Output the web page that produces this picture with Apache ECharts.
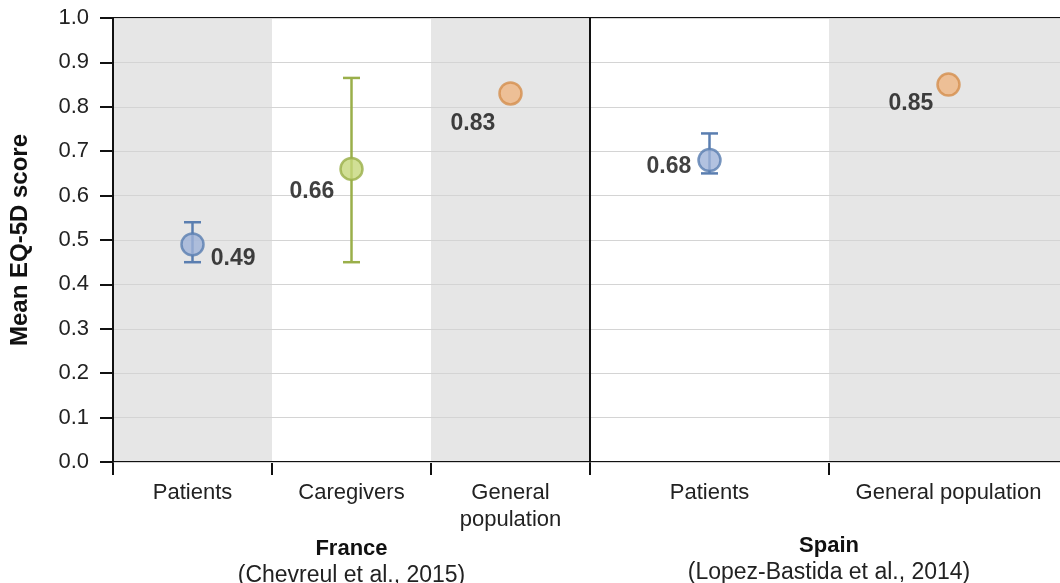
<!DOCTYPE html>
<html>
<head>
<meta charset="utf-8">
<script src="https://cdn.jsdelivr.net/npm/echarts@6/dist/echarts.min.js"></script>
<style>
  html, body { margin: 0; padding: 0; background: #fff; }
  #chart { width: 1060px; height: 583px; }
</style>
</head>
<body>
<div id="chart"></div>
<script>
// Mean EQ-5D scores by group, with ranges
const franceCategories = ['Patients', 'Caregivers', 'General\npopulation'];
const franceMean = [0.49, 0.66, 0.83];
const franceLow = [0.45, 0.45, null];
const franceHigh = [0.54, 0.865, null];

const spainCategories = ['Patients', 'General population'];
const spainMean = [0.68, 0.85];
const spainLow = [0.65, null];
const spainHigh = [0.74, null];

const yTicks = [0, 0.1, 0.2, 0.3, 0.4, 0.5, 0.6, 0.7, 0.8, 0.9, 1.0];

// group styling
const groupStyle = {
  Patients: { fill: '#9fb3d8', stroke: '#5a7eb0' },
  Caregivers: { fill: '#c6d77a', stroke: '#9aaf4a' },
  General: { fill: '#efb582', stroke: '#d48e4e' }
};
function styleFor(cat) {
  if (cat.indexOf('Patients') === 0) return groupStyle.Patients;
  if (cat.indexOf('Caregivers') === 0) return groupStyle.Caregivers;
  return groupStyle.General;
}

// where each value label sits beside its marker
const franceLabelPlace = [
  { position: 'right', offset: [1, 14] },
  { position: 'left', offset: [0, 23] },
  { position: 'left', offset: [2, 30] }
];
const spainLabelPlace = [
  { position: 'left', offset: [-1, 7] },
  { position: 'left', offset: [2, 19] }
];

const FONT = '"Liberation Sans", Arial, sans-serif';
const FS = 22;

function pointSeries(idx, cats, means, places) {
  return {
    type: 'scatter',
    xAxisIndex: idx, yAxisIndex: idx,
    z: 5,
    symbol: 'circle',
    symbolSize: 22,
    data: means.map((v, i) => {
      const s = styleFor(cats[i]);
      return {
        value: [i, v],
        itemStyle: { color: s.fill, borderColor: s.stroke, borderWidth: 2.5 },
        label: {
          show: true,
          position: places[i].position,
          offset: places[i].offset,
          formatter: v.toFixed(2),
          color: '#111',
          fontFamily: FONT,
          fontWeight: 'bold',
          fontSize: 23
        }
      };
    })
  };
}

function rangeSeries(idx, cats, lows, highs) {
  const data = [];
  lows.forEach((lo, i) => {
    if (lo != null && highs[i] != null) data.push([i, lo, highs[i]]);
  });
  return {
    type: 'custom',
    xAxisIndex: idx, yAxisIndex: idx,
    z: 4,
    data: data,
    renderItem: function (params, api) {
      const i = api.value(0);
      const lo = api.coord([i, api.value(1)]);
      const hi = api.coord([i, api.value(2)]);
      const color = styleFor(cats[i]).stroke;
      const cap = 8.5;
      const st = { stroke: color, lineWidth: 2.5 };
      return {
        type: 'group',
        children: [
          { type: 'line', shape: { x1: lo[0], y1: lo[1], x2: hi[0], y2: hi[1] }, style: st },
          { type: 'line', shape: { x1: lo[0] - cap, y1: lo[1], x2: lo[0] + cap, y2: lo[1] }, style: st },
          { type: 'line', shape: { x1: hi[0] - cap, y1: hi[1], x2: hi[0] + cap, y2: hi[1] }, style: st }
        ]
      };
    }
  };
}

function xAxisFor(idx, cats, title, source, shade) {
  return {
    type: 'category',
    gridIndex: idx,
    z: 0,
    data: cats,
    boundaryGap: true,
    axisLine: { show: true, lineStyle: { color: '#111', width: 2 } },
    axisTick: { show: true, alignWithLabel: false, length: 13, lineStyle: { color: '#111', width: 2 } },
    axisLabel: { color: '#222', fontFamily: FONT, fontSize: FS, margin: 17, lineHeight: 27, interval: 0 },
    splitLine: { show: false },
    splitArea: { show: true, areaStyle: { color: shade } },
    name: '{t|' + title + '}\n{s|' + source + '}',
    nameLocation: 'middle',
    nameGap: 70,
    nameTextStyle: {
      rich: {
        t: { fontFamily: FONT, fontSize: 22, fontWeight: 'bold', color: '#111', lineHeight: 27 },
        s: { fontFamily: FONT, fontSize: 23, color: '#222', lineHeight: 27 }
      }
    }
  };
}

function yAxisFor(idx, showLabels) {
  return {
    type: 'value',
    gridIndex: idx,
    z: 1,
    min: yTicks[0],
    max: yTicks[yTicks.length - 1],
    interval: 0.1,
    axisLine: { show: true, lineStyle: { color: '#111', width: 2 } },
    axisTick: { show: showLabels, length: 13, lineStyle: { color: '#111', width: 2 } },
    axisLabel: {
      show: showLabels, color: '#222', fontFamily: FONT, fontSize: FS, margin: 24,
      formatter: v => v.toFixed(1)
    },
    splitLine: { show: true, lineStyle: { color: '#d4d4d4', width: 1 } },
    name: showLabels ? 'Mean EQ-5D score' : '',
    nameLocation: 'middle',
    nameGap: 81,
    nameTextStyle: { fontFamily: FONT, fontSize: 24, fontWeight: 'bold', color: '#111' }
  };
}

const chart = echarts.init(document.getElementById('chart'), null, { renderer: 'canvas' });
chart.setOption({
  backgroundColor: '#fff',
  animation: false,
  grid: [
    { left: 113, top: 18, width: 477, height: 444, outerBoundsMode: 'none', containLabel: false,
      show: true, borderColor: '#111', borderWidth: 2, backgroundColor: 'transparent' },
    { left: 590, top: 18, width: 478, height: 444, outerBoundsMode: 'none', containLabel: false,
      show: true, borderColor: '#111', borderWidth: 2, backgroundColor: 'transparent' }
  ],
  xAxis: [
    xAxisFor(0, franceCategories, 'France', '(Chevreul et al., 2015)', ['#e6e6e6', '#ffffff']),
    xAxisFor(1, spainCategories, 'Spain', '(Lopez-Bastida et al., 2014)', ['#ffffff', '#e6e6e6'])
  ],
  yAxis: [yAxisFor(0, true), yAxisFor(1, false)],
  series: [
    rangeSeries(0, franceCategories, franceLow, franceHigh),
    pointSeries(0, franceCategories, franceMean, franceLabelPlace),
    rangeSeries(1, spainCategories, spainLow, spainHigh),
    pointSeries(1, spainCategories, spainMean, spainLabelPlace)
  ]
});
</script>
</body>
</html>
